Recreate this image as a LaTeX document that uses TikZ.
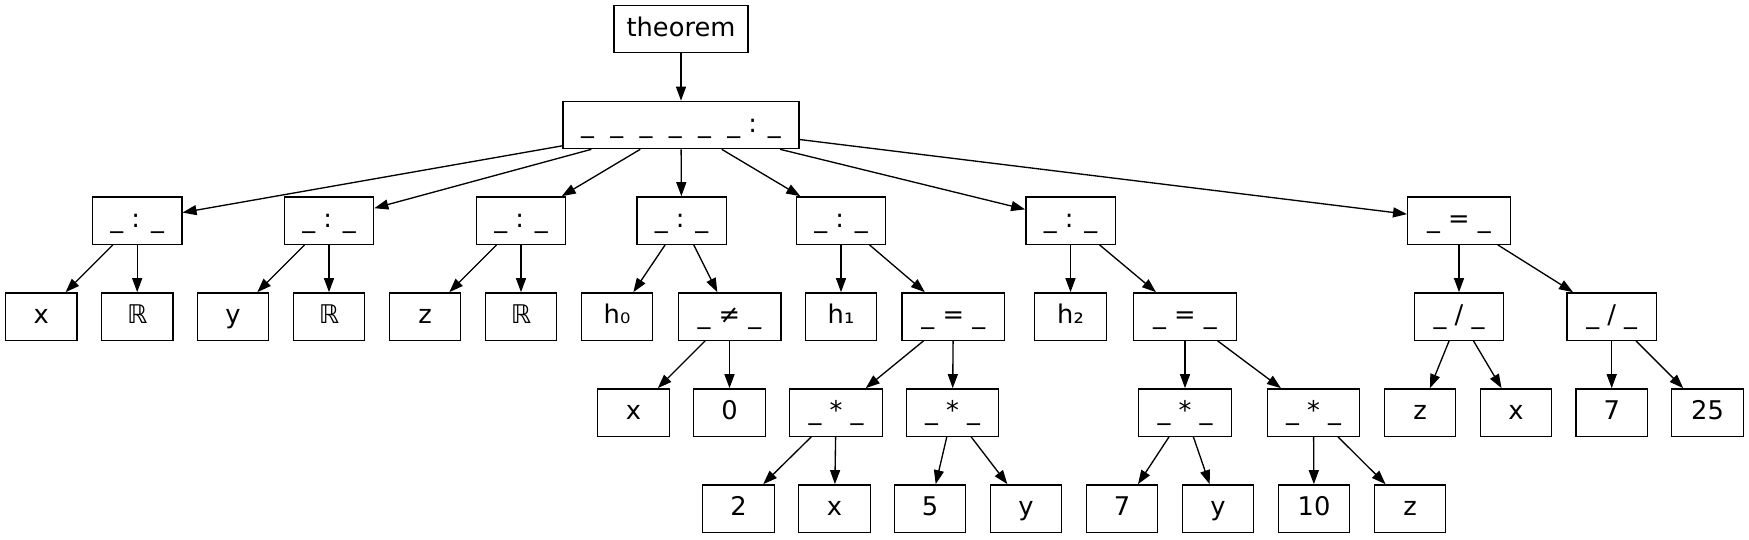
\documentclass[tikz,border=0pt]{standalone}
\usepackage{fontspec}
\setmainfont{DejaVu Sans}
\usetikzlibrary{arrows.meta}
\begin{document}
\begin{tikzpicture}[x=0.75pt,y=-0.75pt,
  box/.style={draw, line width=1pt, rectangle, inner sep=0pt, minimum height=35.5pt,
    text height=14.5pt, text depth=3.5pt, font=\fontsize{19.3}{23}\selectfont},
  leaf/.style={box, minimum width=53.6pt},
  colonbox/.style={box, minimum width=67pt},
  eqbox/.style={box, minimum width=77pt},
  starbox/.style={box, minimum width=69.4pt},
  edge/.style={-{Triangle[length=10.5pt,width=7.5pt]}, line width=1pt}]
\useasboundingbox (0,0) rectangle (1749,539);
% level 0/1
\node[box, minimum width=100.5pt] (thm) at (681,29) {theorem};
\node[box, minimum width=177pt] (root) at (681,125) {\_~~\_~~\_~~\_~~\_~~\_ : \_};
% level 2
\node[colonbox] (a1) at (137.2,220.5) {\_ : \_};
\node[colonbox] (a2) at (329,220.5) {\_ : \_};
\node[colonbox] (a3) at (521,220.5) {\_ : \_};
\node[colonbox] (a4) at (681.5,220.5) {\_ : \_};
\node[colonbox] (a5) at (841,220.5) {\_ : \_};
\node[colonbox] (a6) at (1070.5,220.5) {\_ : \_};
\node[eqbox] (a7) at (1459,220.5) {\_ = \_};
% level 3
\node[leaf] (x1) at (41.3,316.5) {x};
\node[leaf] (r1) at (137.2,316.5) {ℝ};
\node[leaf] (y1) at (233,316.5) {y};
\node[leaf] (r2) at (329,316.5) {ℝ};
\node[leaf] (z1) at (425,316.5) {z};
\node[leaf] (r3) at (521,316.5) {ℝ};
\node[leaf] (h0) at (617,316.5) {h₀};
\node[eqbox] (ne) at (729.5,316.5) {\_ ≠ \_};
\node[leaf] (h1) at (841,316.5) {h₁};
\node[eqbox] (eq1) at (953.3,316.5) {\_ = \_};
\node[leaf] (h2) at (1070.5,316.5) {h₂};
\node[eqbox] (eq2) at (1185,316.5) {\_ = \_};
\node[colonbox] (d1) at (1459,316.5) {\_ / \_};
\node[colonbox] (d2) at (1611.7,316.5) {\_ / \_};
% level 4
\node[leaf] (x2) at (633.5,412.5) {x};
\node[leaf] (zero) at (729.5,412.5) {0};
\node[starbox] (s1) at (836,412.5) {\_ * \_};
\node[starbox] (s2) at (952.5,412.5) {\_ * \_};
\node[starbox] (s3) at (1185,412.5) {\_ * \_};
\node[starbox] (s4) at (1313.5,412.5) {\_ * \_};
\node[leaf] (z3) at (1420,412.5) {z};
\node[leaf] (x4) at (1516,412.5) {x};
\node[leaf] (seven2) at (1611.7,412.5) {7};
\node[leaf] (tf) at (1707.5,412.5) {25};
% level 5
\node[leaf] (two) at (738.5,508.5) {2};
\node[leaf] (x3) at (834.5,508.5) {x};
\node[leaf] (five) at (930,508.5) {5};
\node[leaf] (y2) at (1026,508.5) {y};
\node[leaf] (seven1) at (1122,508.5) {7};
\node[leaf] (y3) at (1218,508.5) {y};
\node[leaf] (ten) at (1314,508.5) {10};
\node[leaf] (z2) at (1410,508.5) {z};
% edges
\draw[edge] (thm) -- (root);
\foreach \t in {a1,a2,a3,a4,a5,a6,a7} \draw[edge] (root) -- (\t);
\draw[edge] (a1) -- (x1); \draw[edge] (a1) -- (r1);
\draw[edge] (a2) -- (y1); \draw[edge] (a2) -- (r2);
\draw[edge] (a3) -- (z1); \draw[edge] (a3) -- (r3);
\draw[edge] (a4) -- (h0); \draw[edge] (a4) -- (ne);
\draw[edge] (ne) -- (x2); \draw[edge] (ne) -- (zero);
\draw[edge] (a5) -- (h1); \draw[edge] (a5) -- (eq1);
\draw[edge] (eq1) -- (s1); \draw[edge] (eq1) -- (s2);
\draw[edge] (s1) -- (two); \draw[edge] (s1) -- (x3);
\draw[edge] (s2) -- (five); \draw[edge] (s2) -- (y2);
\draw[edge] (a6) -- (h2); \draw[edge] (a6) -- (eq2);
\draw[edge] (eq2) -- (s3); \draw[edge] (eq2) -- (s4);
\draw[edge] (s3) -- (seven1); \draw[edge] (s3) -- (y3);
\draw[edge] (s4) -- (ten); \draw[edge] (s4) -- (z2);
\draw[edge] (a7) -- (d1); \draw[edge] (a7) -- (d2);
\draw[edge] (d1) -- (z3); \draw[edge] (d1) -- (x4);
\draw[edge] (d2) -- (seven2); \draw[edge] (d2) -- (tf);
\end{tikzpicture}
\end{document}
